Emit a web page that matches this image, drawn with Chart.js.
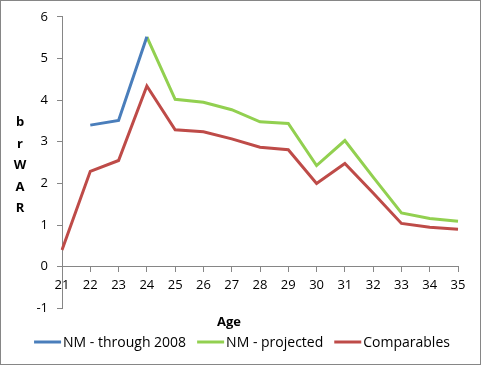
<!DOCTYPE html>
<html>
<head>
<meta charset="utf-8">
<script src="https://cdn.jsdelivr.net/npm/chart.js@4.4.1/dist/chart.umd.min.js"></script>
<style>
  html, body { margin: 0; padding: 0; background: #fff; }
  canvas { display: block; }
</style>
</head>
<body>
<canvas id="chart" width="481" height="365"></canvas>
<script>
const ages = [21, 22, 23, 24, 25, 26, 27, 28, 29, 30, 31, 32, 33, 34, 35];
const nmThrough2008 = [null, 3.40, 3.51, 5.52, null, null, null, null, null, null, null, null, null, null, null];
const nmProjected = [null, null, null, 5.52, 4.02, 3.95, 3.77, 3.48, 3.44, 2.43, 3.03, 2.15, 1.29, 1.16, 1.09];
const comparables = [0.40, 2.29, 2.55, 4.34, 3.29, 3.24, 3.07, 2.87, 2.81, 2.00, 2.48, 1.77, 1.04, 0.95, 0.90];
const yMin = -1;
const yMax = 6;
const yTitleLetters = ['b', 'r', 'W', 'A', 'R'];

const FONT = '"Open Sans", "Liberation Sans", sans-serif';
const AXIS_GRAY = '#868686';

// white background, outer frame, stacked y title and an Excel-like legend row
const chartFrame = {
    id: 'chartFrame',
    beforeDraw(chart) {
        const ctx = chart.ctx;
        ctx.save();
        ctx.fillStyle = '#fff';
        ctx.fillRect(0, 0, chart.width, chart.height);
        ctx.restore();
    },
    afterDraw(chart) {
        const ctx = chart.ctx;
        const area = chart.chartArea;
        ctx.save();
        ctx.strokeStyle = AXIS_GRAY;
        ctx.lineWidth = 1;
        ctx.strokeRect(0.5, 0.5, chart.width - 1, chart.height - 1);

        ctx.fillStyle = '#000';
        ctx.font = 'bold 13px ' + FONT;
        ctx.textAlign = 'center';
        ctx.textBaseline = 'middle';
        const mid = (area.top + area.bottom) / 2 + 3;
        const step = 21.5;
        yTitleLetters.forEach((ch, i) => {
            ctx.fillText(ch, 20, mid + (i - 2) * step);
        });

        // legend
        const lineLen = 27, gap = 2, itemGap = 11, legendY = 342;
        ctx.font = '14px ' + FONT;
        ctx.textAlign = 'left';
        const items = chart.data.datasets.map(ds => ({
            label: ds.label,
            color: ds.borderColor,
            w: lineLen + gap + ctx.measureText(ds.label).width
        }));
        const total = items.reduce((s, it) => s + it.w, 0) + itemGap * (items.length - 1);
        let x = 242 - total / 2;
        items.forEach(it => {
            ctx.strokeStyle = it.color;
            ctx.lineWidth = 3;
            ctx.beginPath();
            ctx.moveTo(x, legendY);
            ctx.lineTo(x + lineLen, legendY);
            ctx.stroke();
            ctx.fillStyle = '#000';
            ctx.fillText(it.label, x + lineLen + gap, legendY + 1);
            x += it.w + itemGap;
        });
        ctx.restore();
    }
};

const ctx = document.getElementById('chart').getContext('2d');

new Chart(ctx, {
    type: 'line',
    data: {
        labels: ages,
        datasets: [
            {
                label: 'NM - through 2008',
                data: nmThrough2008,
                borderColor: '#4A7EBB',
                backgroundColor: '#4A7EBB'
            },
            {
                label: 'NM - projected',
                data: nmProjected,
                borderColor: '#92D050',
                backgroundColor: '#92D050'
            },
            {
                label: 'Comparables',
                data: comparables,
                borderColor: '#BE4B48',
                backgroundColor: '#BE4B48'
            }
        ]
    },
    options: {
        responsive: false,
        animation: false,
        spanGaps: false,
        elements: {
            line: { borderWidth: 3, tension: 0, borderCapStyle: 'butt', borderJoinStyle: 'miter' },
            point: { radius: 0, hoverRadius: 0 }
        },
        layout: {
            padding: { left: 0, top: 15, right: 23, bottom: 35 }
        },
        scales: {
            x: {
                type: 'category',
                position: { y: 0 },
                offset: false,
                grid: {
                    drawOnChartArea: false,
                    drawTicks: true,
                    tickLength: 5,
                    color: AXIS_GRAY
                },
                border: { color: AXIS_GRAY, width: 1 },
                ticks: {
                    color: '#000',
                    font: { family: FONT, size: 13 },
                    padding: 6,
                    maxRotation: 0,
                    autoSkip: false
                }
            },
            y: {
                min: yMin,
                max: yMax,
                grid: {
                    drawOnChartArea: false,
                    drawTicks: true,
                    tickLength: 5,
                    color: AXIS_GRAY
                },
                border: { color: AXIS_GRAY, width: 1 },
                ticks: {
                    stepSize: 1,
                    color: '#000',
                    font: { family: FONT, size: 13 },
                    padding: 9
                },
                afterFit(scale) {
                    scale.width = 62;
                }
            }
        },
        plugins: {
            tooltip: { enabled: false },
            legend: { display: false },
            title: {
                display: true,
                position: 'bottom',
                text: 'Age',
                color: '#000',
                font: { family: FONT, size: 13, weight: 'bold' },
                padding: { top: 6, bottom: 0 }
            }
        }
    },
    plugins: [chartFrame]
});
</script>
</body>
</html>
